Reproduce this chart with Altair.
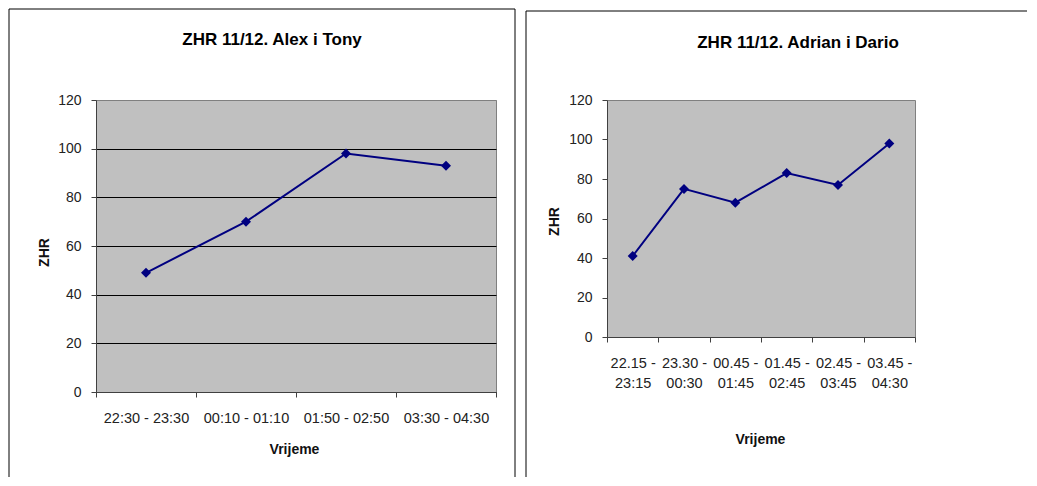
import altair as alt
import pandas as pd

FONT = "Liberation Sans"
NAVY = "#000080"

# ---- data ----
left_title = "ZHR 11/12. Alex i Tony"
left_times = ["22:30 - 23:30", "00:10 - 01:10", "01:50 - 02:50", "03:30 - 04:30"]
left_zhr = [49, 70, 98, 93]

right_title = "ZHR 11/12. Adrian i Dario"
right_times = ["22.15 - 23:15", "23.30 - 00:30", "00.45 - 01:45",
               "01.45 - 02:45", "02.45 - 03:45", "03.45 - 04:30"]
right_zhr = [41, 75, 68, 83, 77, 98]

y_ticks = [0, 20, 40, 60, 80, 100, 120]
y_label = "ZHR"
x_label = "Vrijeme"

left_df = pd.DataFrame({"time": left_times, "zhr": left_zhr})
right_df = pd.DataFrame({"time": right_times, "zhr": right_zhr})
one = pd.DataFrame({"a": [0]})


def frame_rules(left, top, bottom, right, right_side=True):
    layers = [
        alt.Chart(one).mark_rule(color="black", strokeWidth=1).encode(
            x=alt.value(left), y=alt.value(top), y2=alt.value(bottom)),
        alt.Chart(one).mark_rule(color="black", strokeWidth=1).encode(
            x=alt.value(left), x2=alt.value(right), y=alt.value(top)),
    ]
    if right_side:
        layers.append(
            alt.Chart(one).mark_rule(color="black", strokeWidth=1).encode(
                x=alt.value(right), y=alt.value(top), y2=alt.value(bottom)))
    return layers


def panel(df, times, title, width, height, grid, title_x, title_y,
          ytitle_x, ytitle_y, xtitle_x, xtitle_y, frame, two_line):
    x_axis = alt.Axis(
        title=x_label, labelAngle=0, tickBand="extent", tickSize=5,
        tickColor="#404040", domainColor="#404040", labelPadding=14,
        labelFont=FONT, labelFontSize=14.5, labelColor="#222222",
        labelOverlap=False, labelLineHeight=20,
        titleFont=FONT, titleFontSize=14, titleFontWeight="bold",
        titleColor="#111111", titleX=xtitle_x, titleY=xtitle_y,
        titleBaseline="alphabetic", titleAlign="center",
        **({"labelExpr": "[slice(datum.label, 0, 7), slice(datum.label, 8)]"}
           if two_line else {}))
    y_axis = alt.Axis(
        title=y_label, values=y_ticks, grid=grid,
        gridColor={"condition": {"test": "datum.value >= 120", "value": "#808080"},
                   "value": "#000000"},
        tickSize=5, tickColor="#404040", domainColor="#404040",
        labelPadding=10, labelFont=FONT, labelFontSize=14, labelColor="#222222",
        titleFont=FONT, titleFontSize=14, titleFontWeight="bold",
        titleColor="#111111", titleX=ytitle_x, titleY=ytitle_y,
        titleAngle=270, titleBaseline="bottom", titleAlign="center")
    x = alt.X("time:N", sort=times,
              scale=alt.Scale(type="band", paddingInner=0, paddingOuter=0),
              axis=x_axis)
    y = alt.Y("zhr:Q", scale=alt.Scale(domain=[0, 120], nice=False), axis=y_axis)
    base = alt.Chart(df)
    line = base.mark_line(color=NAVY, strokeWidth=2).encode(x=x, y=y)
    pts = base.mark_point(shape="diamond", filled=True, size=100, color=NAVY,
                          opacity=1).encode(x=x, y=y)
    ttl = alt.Chart(pd.DataFrame({"t": [title]})).mark_text(
        font=FONT, fontSize=17, fontWeight="bold", color="#000000").encode(
        x=alt.value(title_x), y=alt.value(title_y), text="t:N")
    return alt.layer(line, pts, ttl, *frame).properties(width=width, height=height)


left = panel(left_df, left_times, left_title, 400, 292, True,
             176, -60, -45, 152, 198, 61,
             frame_rules(-87, -91, 377, 419), False)
right = panel(right_df, right_times, right_title, 308, 237, False,
              191, -57, -46, 121, 153, 106,
              frame_rules(-81, -89, 377, 420, right_side=False), True)

chart = alt.hconcat(left, right, spacing=9).properties(
    padding=0, background="white"
).configure_view(fill="#C0C0C0", stroke="#808080", strokeWidth=1)

chart.save("out.html", embed_options={"renderer": "svg", "actions": False})
